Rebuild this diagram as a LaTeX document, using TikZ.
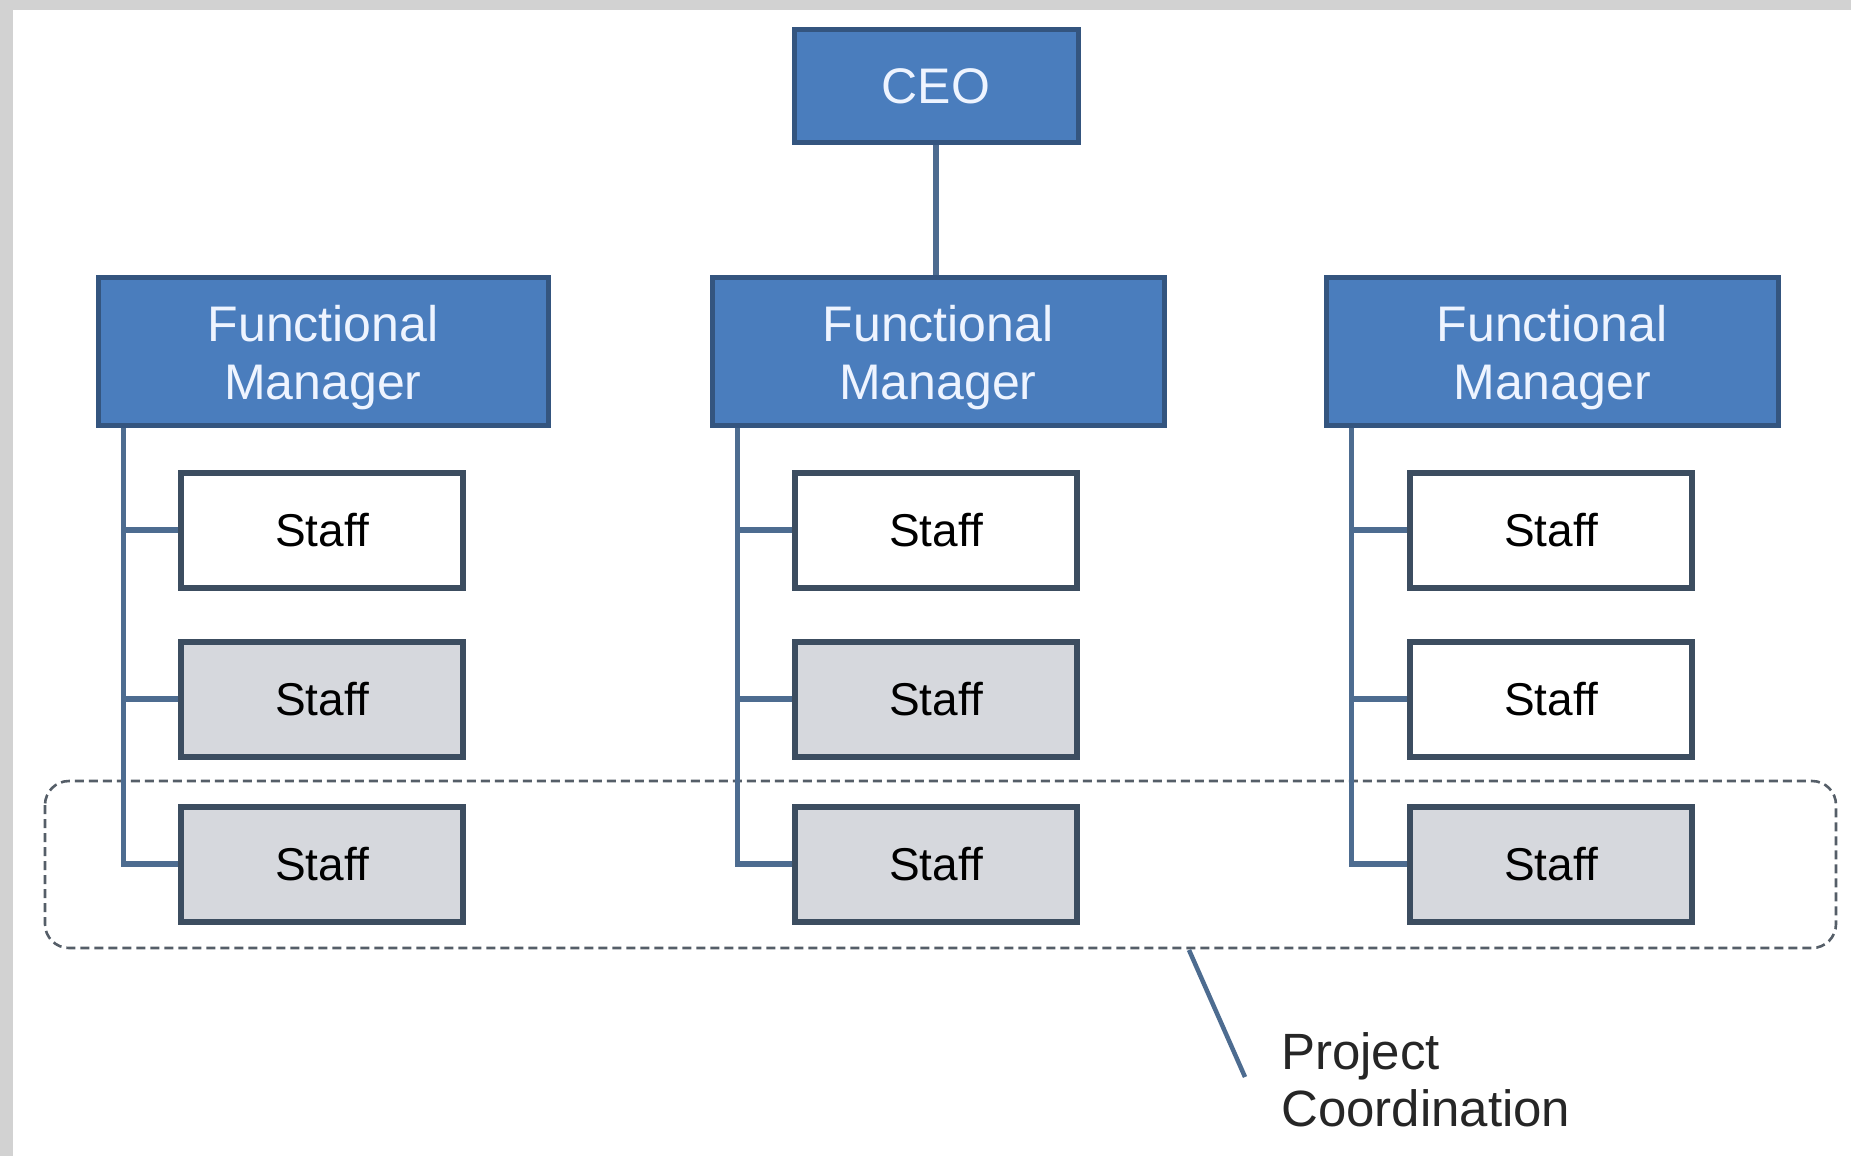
\documentclass[tikz,border=0pt]{standalone}
\usepackage{fontspec}
\setmainfont{Liberation Sans}
\definecolor{fmfill}{HTML}{4A7DBD}
\definecolor{fmborder}{HTML}{34557F}
\definecolor{fmtext}{HTML}{EEF4FF}
\definecolor{stborder}{HTML}{3C4D60}
\definecolor{stgray}{HTML}{D6D8DD}
\definecolor{conncol}{HTML}{4D6C90}
\definecolor{dashcol}{HTML}{555E68}
\definecolor{bggray}{HTML}{D2D2D2}
\begin{document}
\begin{tikzpicture}[x=1pt,y=-1pt,
  bluebox/.style={draw=fmborder, fill=fmfill, line width=5pt, text=fmtext,
    font=\fontsize{50}{58}\selectfont, align=center, inner sep=0pt},
  staffbox/.style={draw=stborder, fill=white, line width=6pt, text=black,
    font=\fontsize{46}{52}\selectfont, inner sep=0pt,
    minimum width=282pt, minimum height=115pt},
  graybox/.style={staffbox, fill=stgray},
  conn/.style={draw=conncol, line width=5.5pt},
  projbox/.style={draw=dashcol, line width=2.6pt, dash pattern=on 9pt off 5pt, rounded corners=24pt},
  label/.style={font=\fontsize{51}{57}\selectfont, align=left, inner sep=0pt, text=black!85}
]
\useasboundingbox (0,0) rectangle (1851,1156);
\fill[bggray] (0,0) rectangle (1851,1156);
\fill[white] (13,10) rectangle (1851,1156);

% dashed project coordination box
\draw[projbox] (45,781) rectangle (1836,948);

% CEO and functional managers
\node[bluebox, minimum width=284pt, minimum height=112pt] (ceo) at (936,86) {CEO};
\node[bluebox, minimum width=450pt, minimum height=148pt] (fmL) at (323,351) {\rule{0pt}{48.5pt}Functional\\Manager};
\node[bluebox, minimum width=452pt, minimum height=148pt] (fmM) at (938,351) {\rule{0pt}{48.5pt}Functional\\Manager};
\node[bluebox, minimum width=452pt, minimum height=148pt] (fmR) at (1552,351) {\rule{0pt}{48.5pt}Functional\\Manager};

% staff
\node[staffbox] (sL1) at (322,530) {Staff};
\node[graybox]  (sL2) at (322,699) {Staff};
\node[graybox]  (sL3) at (322,864) {Staff};
\node[staffbox] (sM1) at (936,530) {Staff};
\node[graybox]  (sM2) at (936,699) {Staff};
\node[graybox]  (sM3) at (936,864) {Staff};
\node[staffbox] (sR1) at (1551,530) {Staff};
\node[staffbox] (sR2) at (1551,699) {Staff};
\node[graybox]  (sR3) at (1551,864) {Staff};

% connectors
\draw[conn] (ceo.south) -- (ceo.south |- fmM.north);
\foreach \f/\s in {fmL/sL, fmM/sM, fmR/sR}{
  \coordinate (\f sp) at ([xshift=28pt]\f.south west);
  \draw[conn] (\f sp) |- (\s3.west);
  \draw[conn] (\f sp |- \s1.west) -- (\s1.west);
  \draw[conn] (\f sp |- \s2.west) -- (\s2.west);
}

% leader and label
\coordinate (la) at (1189,950);
\coordinate (lb) at (1245,1077);
\draw[conn, line width=4.5pt] (la) -- (lb);
\node[label, anchor=north west] (proj) at (1281,1032) {Project\\Coordination};
\end{tikzpicture}
\end{document}
